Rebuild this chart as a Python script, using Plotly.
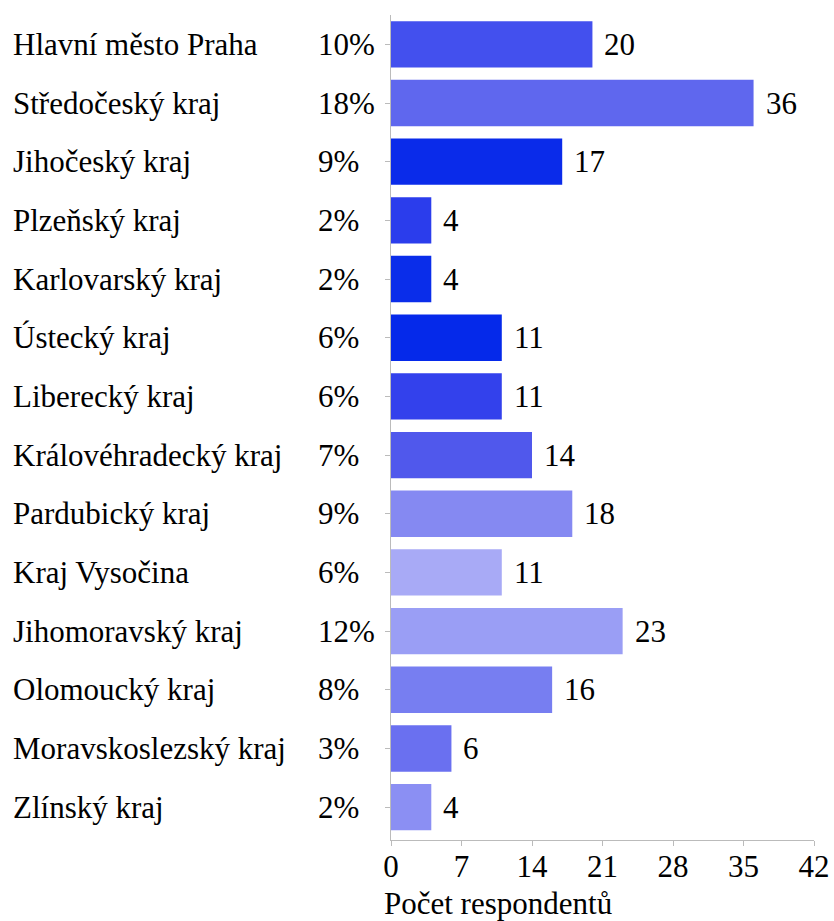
import plotly.graph_objects as go

categories = ["Hlavní město Praha", "Středočeský kraj", "Jihočeský kraj", "Plzeňský kraj",
              "Karlovarský kraj", "Ústecký kraj", "Liberecký kraj", "Královéhradecký kraj",
              "Pardubický kraj", "Kraj Vysočina", "Jihomoravský kraj", "Olomoucký kraj",
              "Moravskoslezský kraj", "Zlínský kraj"]
counts = [20, 36, 17, 4, 4, 11, 11, 14, 18, 11, 23, 16, 6, 4]
percents = ["10%", "18%", "9%", "2%", "2%", "6%", "6%", "7%", "9%", "6%", "12%", "8%", "3%", "2%"]
colors = ["#4350EE", "#5F67EE", "#0A2BEA", "#2B3DEC", "#0A2DEA", "#0529EA", "#3341EC",
          "#5058EC", "#8589F2", "#A8AAF6", "#9A9EF5", "#777EF1", "#6A70F0", "#8B8FF3"]
x_ticks = [0, 7, 14, 21, 28, 35, 42]
x_title = "Počet respondentů"

FONT = "Liberation Serif, Times New Roman, serif"
FS = 31

fig = go.Figure()
fig.add_trace(go.Bar(
    y=categories, x=counts, orientation="h",
    marker=dict(color=colors, line=dict(width=0)),
    width=0.79, hoverinfo="x+y",
))

annotations = []
for cat, c, p in zip(categories, counts, percents):
    annotations.append(dict(x=c, y=cat, xref="x", yref="y", text=str(c), showarrow=False,
                            xanchor="left", xshift=10, font=dict(family=FONT, size=FS, color="black")))
    annotations.append(dict(x=0, y=cat, xref="paper", yref="y", text=cat, showarrow=False,
                            xanchor="left", xshift=-380, font=dict(family=FONT, size=FS, color="black")))
    annotations.append(dict(x=0, y=cat, xref="paper", yref="y", text=p, showarrow=False,
                            xanchor="left", xshift=-75, font=dict(family=FONT, size=FS, color="black")))
annotations.append(dict(x=0, y=0, xref="paper", yref="paper", text=x_title, showarrow=False,
                        xanchor="left", yanchor="middle", xshift=-9, yshift=-63,
                        font=dict(family=FONT, size=FS, color="black")))

fig.update_layout(
    width=834, height=921,
    margin=dict(l=391, r=20, t=15, b=81, autoexpand=False),
    plot_bgcolor="white", paper_bgcolor="white",
    showlegend=False,
    font=dict(family=FONT, size=FS, color="black"),
    annotations=annotations,
)
fig.update_xaxes(range=[0, 42], tickvals=x_ticks, showgrid=False, zeroline=False,
                 automargin=False, ticklabelstandoff=-6,
                 showline=True, linecolor="#BBBBBB", linewidth=1, ticks="outside",
                 ticklen=5, tickcolor="#BBBBBB", tickfont=dict(family=FONT, size=FS, color="black"))
fig.update_yaxes(range=[13.56, -0.5], showticklabels=False, showgrid=False, zeroline=False,
                 automargin=False,
                 showline=True, linecolor="#BBBBBB", linewidth=1, ticks="outside",
                 ticklen=5, tickcolor="#BBBBBB")

fig.write_html("out.html", config={"displayModeBar": False},
               post_script="document.body.style.margin='0';")
